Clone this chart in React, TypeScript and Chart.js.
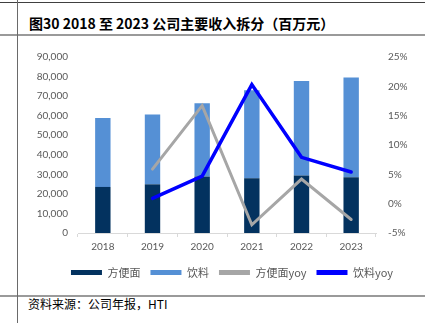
import React, { useEffect, useRef } from "react";
import { Chart, registerables } from "chart.js";

Chart.register(...registerables);

const years = ["2018", "2019", "2020", "2021", "2022", "2023"];
const noodles = [23550, 24900, 28870, 28000, 29380, 28500];
const drinks = [35210, 35750, 37470, 45030, 48300, 51040];
const noodleYoy = [null, 5.9, 16.7, -3.6, 4.2, -2.7];
const drinkYoy = [null, 0.9, 4.7, 20.3, 7.9, 5.4];
const leftTicks = [0, 10000, 20000, 30000, 40000, 50000, 60000, 70000, 80000, 90000];
const rightTicks = [-5, 0, 5, 10, 15, 20, 25];

const DARK = "#03325F";
const LIGHT = "#5590D5";
const GRAY = "#A6A6A6";
const BLUE = "#0000FF";
const TICK_FONT = { family: "Lato, 'Noto Sans', sans-serif", size: 10 };
const TXT = "#595959";

export default function App() {
  const ref = useRef<HTMLCanvasElement | null>(null);
  useEffect(() => {
    if (!ref.current) return;
    const chart = new Chart(ref.current, {
      type: "bar",
      data: {
        labels: years,
        datasets: [
          { type: "bar", label: "方便面", data: noodles, backgroundColor: DARK, yAxisID: "y", order: 2, categoryPercentage: 1, barPercentage: 0.31 },
          { type: "bar", label: "饮料", data: drinks, backgroundColor: LIGHT, yAxisID: "y", order: 2, categoryPercentage: 1, barPercentage: 0.31 },
          { type: "line", label: "方便面yoy", data: noodleYoy, borderColor: GRAY, backgroundColor: GRAY, borderWidth: 3, pointRadius: 0, yAxisID: "y1", order: 1, borderCapStyle: "round", tension: 0 },
          { type: "line", label: "饮料yoy", data: drinkYoy, borderColor: BLUE, backgroundColor: BLUE, borderWidth: 3.5, pointRadius: 0, yAxisID: "y1", order: 0, borderCapStyle: "round", tension: 0 },
        ] as any,
      },
      options: {
        animation: false,
        responsive: false,
        maintainAspectRatio: false,
        layout: { padding: { left: 16, right: 0, top: 20, bottom: 6 } },
        plugins: {
          tooltip: { enabled: false },
          legend: {
            position: "bottom",
            labels: {
              boxWidth: 31,
              boxHeight: 5,
              padding: 10,
              color: TXT,
              font: { family: "'Noto Sans CJK SC', sans-serif", size: 11 },
              generateLabels: (c: any) =>
                c.data.datasets.map((d: any, i: number) => ({
                  text: d.label,
                  fillStyle: d.backgroundColor,
                  strokeStyle: d.backgroundColor,
                  lineWidth: 0,
                  hidden: false,
                  datasetIndex: i,
                  fontColor: TXT,
                })),
            },
          },
        },
        scales: {
          x: {
            stacked: true,
            offset: true,
            grid: { display: true, offset: true, drawOnChartArea: false, tickLength: 4, color: "#D9D9D9" },
            border: { display: true, color: "#D9D9D9" },
            ticks: { color: TXT, font: TICK_FONT, padding: 4 },
          },
          y: {
            stacked: true,
            position: "left",
            min: 0,
            max: 90000,
            afterBuildTicks: (s: any) => { s.ticks = leftTicks.map((v) => ({ value: v })); },
            afterFit: (s: any) => { s.width = 44; },
            grid: { display: false, drawTicks: false },
            border: { display: false },
            ticks: {
              color: TXT,
              font: TICK_FONT,
              padding: 10,
              callback: (v: any) => Number(v).toLocaleString("en-US"),
            },
          },
          y1: {
            stacked: false,
            position: "right",
            min: -5,
            max: 25,
            afterBuildTicks: (s: any) => { s.ticks = rightTicks.map((v) => ({ value: v })); },
            afterFit: (s: any) => { s.width = 54; },
            grid: { display: false, drawTicks: false },
            border: { display: false },
            ticks: { color: TXT, font: TICK_FONT, padding: 12, callback: (v: any) => v + "%" },
          },
        },
      } as any,
    });
    return () => chart.destroy();
  }, []);

  return (
    <div style={{ position: "fixed", left: 0, top: 0, width: 430, height: 323, background: "#fff", overflow: "hidden" }}>
      <div style={{ position: "absolute", left: 0, top: 2, width: 425, height: 1, background: "#404040" }} />
      <div style={{ position: "absolute", left: 0, top: 34, width: 425, height: 2, background: "#9a9a9a" }} />
      <div style={{ position: "absolute", left: 0, top: 295, width: 425, height: 2, background: "#9a9a9a" }} />
      <div style={{ position: "absolute", left: 17, top: 0, width: 1, height: 323, background: "#6a6a6a" }} />
      <div style={{ position: "absolute", left: 29, top: 14, fontFamily: "'Noto Sans CJK SC', sans-serif", fontWeight: 700, fontSize: 14, lineHeight: "18px", color: "#000", whiteSpace: "nowrap" }}>
        图30 2018 至 2023 公司主要收入拆分（百万元）
      </div>
      <canvas ref={ref} width={412} height={257} style={{ position: "absolute", left: 18, top: 37, width: 412, height: 257 }} />
      <div style={{ position: "absolute", left: 28, top: 296, fontFamily: "'Noto Sans CJK SC', sans-serif", fontSize: 12, lineHeight: "16px", color: "#000", whiteSpace: "nowrap" }}>
        资料来源：公司年报，HTI
      </div>
    </div>
  );
}
